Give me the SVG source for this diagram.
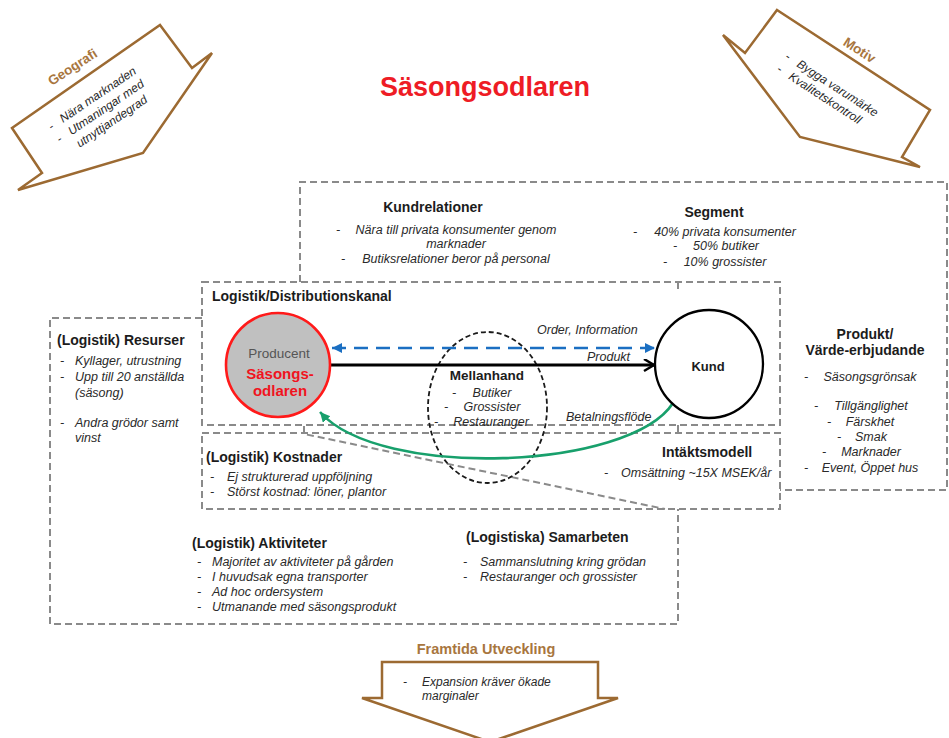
<svg xmlns="http://www.w3.org/2000/svg" width="949" height="738" viewBox="0 0 949 738">
  <style>
    .t{font-family:"Liberation Sans",Arial,sans-serif;fill:#1c1c1c}
    .h{font-size:14px;font-weight:bold}
    .i{font-size:12.5px;font-style:italic;fill:#2a2a2a}
    .s{font-size:12px;font-style:italic;fill:#2a2a2a}
    .m{text-anchor:middle}
    .frame{fill:none;stroke:#8a8a8a;stroke-width:2;stroke-dasharray:7 4}
    .block{fill:#fff;stroke:#9c6a32;stroke-width:2.5;stroke-linejoin:miter}
    .brown{fill:#a8763e;font-weight:bold}
  </style>
  <defs>
    <marker id="blueHead" markerUnits="userSpaceOnUse" markerWidth="12" markerHeight="12" refX="10" refY="5" orient="auto-start-reverse">
      <path d="M0,0 L10,5 L0,10 Z" fill="#1b6fc2"/>
    </marker>
    <marker id="blackHead" markerUnits="userSpaceOnUse" markerWidth="14" markerHeight="14" refX="11" refY="6" orient="auto">
      <path d="M1,0 L11,6 L1,12" fill="none" stroke="#000" stroke-width="2.5"/>
    </marker>
    <marker id="greenHead" markerUnits="userSpaceOnUse" markerWidth="12" markerHeight="12" refX="10" refY="5" orient="auto">
      <path d="M0,0 L10,5 L0,10 Z" fill="#18a06c"/>
    </marker>
  </defs>

  <rect width="949" height="738" fill="#fff"/>

  <!-- dashed canvas areas -->
  <g id="frames">
    <path class="frame" d="M300,282 V182 H947 V490 H780"/>
    <rect class="frame" x="202" y="282" width="578" height="143"/>
    <rect class="frame" x="202" y="433" width="578" height="76"/>
    <path class="frame" d="M202,318 H50 V624 H678 V509"/>
    <path class="frame" d="M304,426 V434 L665,509"/>
    <path class="frame" d="M678,282 V290 M678,425 V433"/>
  </g>

  <!-- title -->
  <text class="t m" x="485" y="96" style="font-size:27px;font-weight:bold;fill:#ee1c25">Säsongsodlaren</text>

  <!-- side arrows -->
  <g id="geografi">
    <path class="block" d="M12,128 L160,25 L192,68 L212,53 L143,153 L18,190 L42,173 Z"/>
    <text class="t brown m" style="font-size:13.5px" transform="translate(75,71) rotate(-33)">Geografi</text>
    <g transform="translate(63,123) rotate(-34)">
      <text class="t s" x="-14" y="0">-</text>
      <text class="t s" x="0" y="0">Nära marknaden</text>
      <text class="t s" x="-14" y="15">-</text>
      <text class="t s" x="0" y="15">Utmaningar med</text>
      <text class="t s" x="0" y="30">utnyttjandegrad</text>
    </g>
  </g>

  <g id="motiv">
    <path class="block" d="M777,10 L930,110 L902,157 L920,167 L800,137 L723,35 L745,53 Z"/>
    <text class="t brown m" style="font-size:13.5px" transform="translate(857,54) rotate(33)">Motiv</text>
    <g transform="translate(796,66) rotate(33)">
      <text class="t s" x="-14" y="0">-</text>
      <text class="t s" x="0" y="0">Bygga varumärke</text>
      <text class="t s" x="-14" y="15">-</text>
      <text class="t s" x="0" y="15">Kvalitetskontroll</text>
    </g>
  </g>

  <g id="framtida">
    <path class="block" d="M382,662 H598 V698 H618 L490,742 L362,698 H382 Z"/>
    <text class="t brown m" x="486" y="654" style="font-size:14.5px">Framtida Utveckling</text>
    <text class="t s" x="403" y="686">-</text>
    <text class="t s" x="422" y="686">Expansion kräver ökade</text>
    <text class="t s" x="422" y="700">marginaler</text>
  </g>

  <!-- canvas blocks -->
  <g id="kundrelationer">
    <text class="t h m" x="433" y="212">Kundrelationer</text>
    <text class="t i" x="336" y="234">-</text>
    <text class="t i m" x="456" y="234">Nära till privata konsumenter genom</text>
    <text class="t i m" x="456" y="248">marknader</text>
    <text class="t i" x="341" y="263">-</text>
    <text class="t i m" x="456" y="263">Butiksrelationer beror på personal</text>
  </g>

  <g id="segment">
    <text class="t h m" x="714" y="217">Segment</text>
    <text class="t i" x="633" y="236">-</text>
    <text class="t i m" x="725" y="236">40% privata konsumenter</text>
    <text class="t i" x="673" y="250">-</text>
    <text class="t i m" x="726" y="250">50% butiker</text>
    <text class="t i" x="663" y="266">-</text>
    <text class="t i m" x="725" y="266">10% grossister</text>
  </g>

  <g id="distributionskanal">
    <text class="t h" x="212" y="301">Logistik/Distributionskanal</text>
  </g>

  <g id="resurser">
    <text class="t h" x="57" y="345">(Logistik) Resurser</text>
    <text class="t i" x="60" y="365">-</text>
    <text class="t i" x="75" y="365">Kyllager, utrustning</text>
    <text class="t i" x="60" y="381">-</text>
    <text class="t i" x="75" y="381">Upp till 20 anställda</text>
    <text class="t i" x="75" y="397">(säsong)</text>
    <text class="t i" x="60" y="427">-</text>
    <text class="t i" x="75" y="427">Andra grödor samt</text>
    <text class="t i" x="75" y="442">vinst</text>
  </g>

  <g id="produkt">
    <text class="t h m" x="865" y="339">Produkt/</text>
    <text class="t h m" x="865" y="355">Värde-erbjudande</text>
    <text class="t i" x="804" y="381">-</text>
    <text class="t i m" x="870" y="381">Säsongsgrönsak</text>
    <text class="t i" x="814" y="410">-</text>
    <text class="t i m" x="871" y="410">Tillgänglighet</text>
    <text class="t i" x="827" y="426">-</text>
    <text class="t i m" x="870" y="426">Färskhet</text>
    <text class="t i" x="837" y="441">-</text>
    <text class="t i m" x="871" y="441">Smak</text>
    <text class="t i" x="822" y="456">-</text>
    <text class="t i m" x="871" y="456">Marknader</text>
    <text class="t i" x="804" y="472">-</text>
    <text class="t i m" x="870" y="472">Event, Öppet hus</text>
  </g>

  <g id="kostnader">
    <text class="t h" x="206" y="462">(Logistik) Kostnader</text>
    <text class="t i" x="210" y="481">-</text>
    <text class="t i" x="227" y="481">Ej strukturerad uppföljning</text>
    <text class="t i" x="210" y="496">-</text>
    <text class="t i" x="227" y="496">Störst kostnad: löner, plantor</text>
  </g>

  <g id="intaktsmodell">
    <text class="t h" x="662" y="457">Intäktsmodell</text>
    <text class="t i" x="604" y="477">-</text>
    <text class="t i" x="621" y="477">Omsättning ~15X MSEK/år</text>
  </g>

  <g id="aktiviteter">
    <text class="t h" x="192" y="548">(Logistik) Aktiviteter</text>
    <text class="t i" x="197" y="566">-</text>
    <text class="t i" x="212" y="566">Majoritet av aktiviteter på gården</text>
    <text class="t i" x="197" y="581">-</text>
    <text class="t i" x="212" y="581">I huvudsak egna transporter</text>
    <text class="t i" x="197" y="596">-</text>
    <text class="t i" x="212" y="596">Ad hoc ordersystem</text>
    <text class="t i" x="197" y="611">-</text>
    <text class="t i" x="212" y="611">Utmanande med säsongsprodukt</text>
  </g>

  <g id="samarbeten">
    <text class="t h" x="466" y="542">(Logistiska) Samarbeten</text>
    <text class="t i" x="463" y="566">-</text>
    <text class="t i" x="480" y="566">Sammanslutning kring grödan</text>
    <text class="t i" x="463" y="581">-</text>
    <text class="t i" x="480" y="581">Restauranger och grossister</text>
  </g>

  <!-- intermediary -->
  <g id="mellanhand">
    <ellipse cx="487.5" cy="407.5" rx="59.5" ry="75.5" fill="none" stroke="#1a1a1a" stroke-width="1.8" stroke-dasharray="5 3"/>
    <text class="t h m" x="487" y="380" style="font-size:13.5px">Mellanhand</text>
    <text class="t i" x="452" y="397">-</text>
    <text class="t i m" x="492" y="397">Butiker</text>
    <text class="t i" x="444" y="411">-</text>
    <text class="t i m" x="492" y="411">Grossister</text>
    <text class="t i" x="434" y="426">-</text>
    <text class="t i m" x="491" y="426">Restauranger</text>
  </g>

  <!-- flows -->
  <g id="connectors">
    <line x1="332" y1="348" x2="655" y2="348" stroke="#1b6fc2" stroke-width="2.6" stroke-dasharray="14 8" marker-start="url(#blueHead)" marker-end="url(#blueHead)"/>
    <text class="t i" x="537" y="334">Order, Information</text>
    <line x1="330" y1="365" x2="654" y2="365" stroke="#000" stroke-width="3" marker-end="url(#blackHead)"/>
    <text class="t i" x="587" y="361">Produkt</text>
    <path d="M673,403 C630,470 380,480 320,412" fill="none" stroke="#18a06c" stroke-width="2.6" marker-end="url(#greenHead)"/>
    <text class="t i" x="566" y="421">Betalningsflöde</text>
  </g>

  <g id="producent">
    <circle cx="278" cy="365" r="52" fill="#c0c0c0" stroke="#ff1a1a" stroke-width="2.6"/>
    <text class="t m" x="279" y="358" style="font-size:13.5px;fill:#555">Producent</text>
    <text class="t m" x="280" y="379" style="font-size:15px;font-weight:bold;fill:#f0141e">Säsongs-</text>
    <text class="t m" x="280" y="396" style="font-size:15px;font-weight:bold;fill:#f0141e">odlaren</text>
  </g>

  <g id="kund">
    <circle cx="709" cy="364" r="54" fill="#fff" stroke="#000" stroke-width="2.3"/>
    <text class="t h m" x="708" y="371" style="font-size:13px">Kund</text>
  </g>
</svg>
